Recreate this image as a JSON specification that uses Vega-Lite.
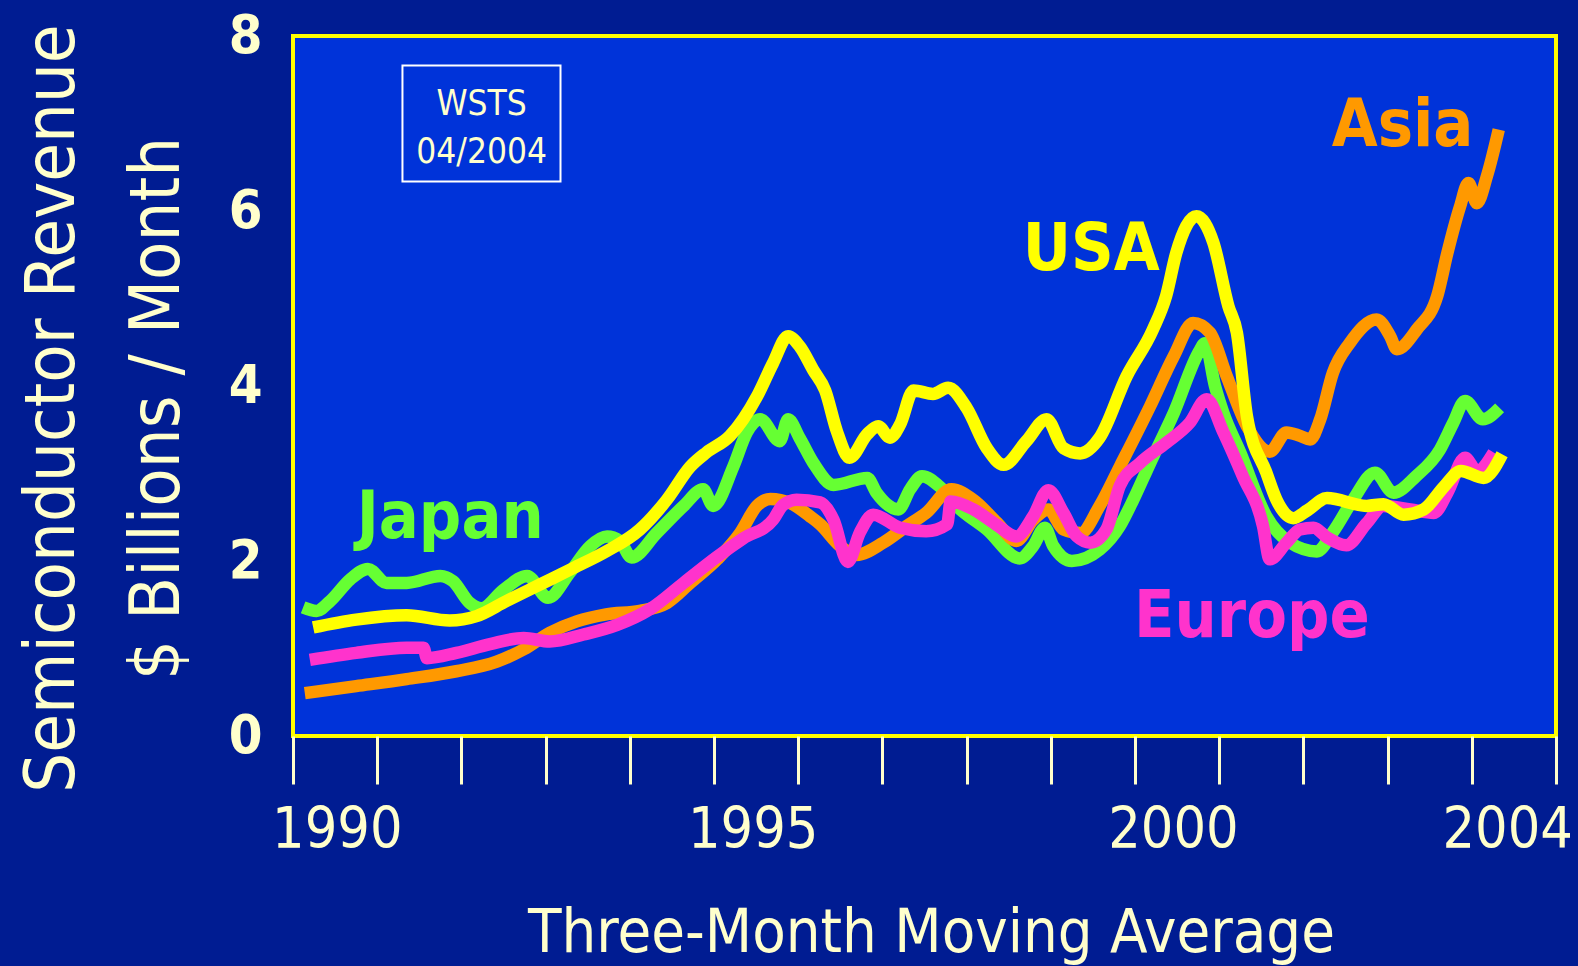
{
  "$schema": "https://vega.github.io/schema/vega-lite/v6.json",
  "width": 1263,
  "height": 700,
  "autosize": {"type": "none"},
  "padding": {"left": 293, "top": 36, "right": 22, "bottom": 230},
  "background": "#001c92",
  "config": {
    "view": {"fill": "#0033d9", "stroke": "#ffff00", "strokeWidth": 4},
    "axis": {"grid": false, "domain": false}
  },
  "datasets": {
    "series": [
      {"region": "Japan", "year": 1990.12, "value": 1.47},
      {"region": "Japan", "year": 1990.28, "value": 1.43},
      {"region": "Japan", "year": 1990.44, "value": 1.54},
      {"region": "Japan", "year": 1990.68, "value": 1.79},
      {"region": "Japan", "year": 1990.89, "value": 1.91},
      {"region": "Japan", "year": 1991.11, "value": 1.75},
      {"region": "Japan", "year": 1991.35, "value": 1.75},
      {"region": "Japan", "year": 1991.75, "value": 1.83},
      {"region": "Japan", "year": 1991.9, "value": 1.77},
      {"region": "Japan", "year": 1992.1, "value": 1.52},
      {"region": "Japan", "year": 1992.24, "value": 1.46},
      {"region": "Japan", "year": 1992.5, "value": 1.67},
      {"region": "Japan", "year": 1992.78, "value": 1.83},
      {"region": "Japan", "year": 1993.03, "value": 1.58},
      {"region": "Japan", "year": 1993.29, "value": 1.87},
      {"region": "Japan", "year": 1993.53, "value": 2.17},
      {"region": "Japan", "year": 1993.73, "value": 2.28},
      {"region": "Japan", "year": 1993.88, "value": 2.23},
      {"region": "Japan", "year": 1994.02, "value": 2.04},
      {"region": "Japan", "year": 1994.32, "value": 2.32},
      {"region": "Japan", "year": 1994.64, "value": 2.63},
      {"region": "Japan", "year": 1994.87, "value": 2.82},
      {"region": "Japan", "year": 1994.99, "value": 2.63},
      {"region": "Japan", "year": 1995.23, "value": 3.08},
      {"region": "Japan", "year": 1995.39, "value": 3.47},
      {"region": "Japan", "year": 1995.55, "value": 3.62},
      {"region": "Japan", "year": 1995.78, "value": 3.37},
      {"region": "Japan", "year": 1995.88, "value": 3.62},
      {"region": "Japan", "year": 1996.02, "value": 3.4},
      {"region": "Japan", "year": 1996.18, "value": 3.12},
      {"region": "Japan", "year": 1996.42, "value": 2.87},
      {"region": "Japan", "year": 1996.82, "value": 2.95},
      {"region": "Japan", "year": 1996.93, "value": 2.78},
      {"region": "Japan", "year": 1997.19, "value": 2.59},
      {"region": "Japan", "year": 1997.33, "value": 2.82},
      {"region": "Japan", "year": 1997.47, "value": 2.97},
      {"region": "Japan", "year": 1997.68, "value": 2.85},
      {"region": "Japan", "year": 1997.88, "value": 2.63},
      {"region": "Japan", "year": 1998.24, "value": 2.36},
      {"region": "Japan", "year": 1998.63, "value": 2.03},
      {"region": "Japan", "year": 1998.79, "value": 2.17},
      {"region": "Japan", "year": 1998.93, "value": 2.38},
      {"region": "Japan", "year": 1999.03, "value": 2.17},
      {"region": "Japan", "year": 1999.25, "value": 2.0},
      {"region": "Japan", "year": 1999.58, "value": 2.13},
      {"region": "Japan", "year": 1999.82, "value": 2.4},
      {"region": "Japan", "year": 1999.98, "value": 2.7},
      {"region": "Japan", "year": 2000.18, "value": 3.12},
      {"region": "Japan", "year": 2000.46, "value": 3.69},
      {"region": "Japan", "year": 2000.77, "value": 4.41},
      {"region": "Japan", "year": 2000.83, "value": 4.49},
      {"region": "Japan", "year": 2000.95, "value": 4.0},
      {"region": "Japan", "year": 2001.05, "value": 3.69},
      {"region": "Japan", "year": 2001.25, "value": 3.24},
      {"region": "Japan", "year": 2001.56, "value": 2.51},
      {"region": "Japan", "year": 2001.84, "value": 2.21},
      {"region": "Japan", "year": 2002.16, "value": 2.11},
      {"region": "Japan", "year": 2002.35, "value": 2.33},
      {"region": "Japan", "year": 2002.59, "value": 2.7},
      {"region": "Japan", "year": 2002.85, "value": 3.01},
      {"region": "Japan", "year": 2003.07, "value": 2.78},
      {"region": "Japan", "year": 2003.34, "value": 2.97},
      {"region": "Japan", "year": 2003.62, "value": 3.27},
      {"region": "Japan", "year": 2003.78, "value": 3.58},
      {"region": "Japan", "year": 2003.92, "value": 3.83},
      {"region": "Japan", "year": 2004.13, "value": 3.62},
      {"region": "Japan", "year": 2004.33, "value": 3.75},

      {"region": "Asia", "year": 1990.14, "value": 0.49},
      {"region": "Asia", "year": 1990.75, "value": 0.57},
      {"region": "Asia", "year": 1991.35, "value": 0.65},
      {"region": "Asia", "year": 1991.94, "value": 0.74},
      {"region": "Asia", "year": 1992.42, "value": 0.85},
      {"region": "Asia", "year": 1992.74, "value": 0.99},
      {"region": "Asia", "year": 1993.05, "value": 1.18},
      {"region": "Asia", "year": 1993.37, "value": 1.31},
      {"region": "Asia", "year": 1993.72, "value": 1.39},
      {"region": "Asia", "year": 1994.12, "value": 1.43},
      {"region": "Asia", "year": 1994.44, "value": 1.52},
      {"region": "Asia", "year": 1994.72, "value": 1.75},
      {"region": "Asia", "year": 1995.04, "value": 2.02},
      {"region": "Asia", "year": 1995.31, "value": 2.32},
      {"region": "Asia", "year": 1995.51, "value": 2.63},
      {"region": "Asia", "year": 1995.67, "value": 2.71},
      {"region": "Asia", "year": 1995.91, "value": 2.66},
      {"region": "Asia", "year": 1996.14, "value": 2.51},
      {"region": "Asia", "year": 1996.26, "value": 2.42},
      {"region": "Asia", "year": 1996.5, "value": 2.17},
      {"region": "Asia", "year": 1996.69, "value": 2.07},
      {"region": "Asia", "year": 1997.01, "value": 2.21},
      {"region": "Asia", "year": 1997.29, "value": 2.4},
      {"region": "Asia", "year": 1997.52, "value": 2.55},
      {"region": "Asia", "year": 1997.82, "value": 2.82},
      {"region": "Asia", "year": 1998.08, "value": 2.7},
      {"region": "Asia", "year": 1998.36, "value": 2.44},
      {"region": "Asia", "year": 1998.59, "value": 2.23},
      {"region": "Asia", "year": 1998.79, "value": 2.47},
      {"region": "Asia", "year": 1998.97, "value": 2.59},
      {"region": "Asia", "year": 1999.15, "value": 2.36},
      {"region": "Asia", "year": 1999.35, "value": 2.32},
      {"region": "Asia", "year": 1999.58, "value": 2.63},
      {"region": "Asia", "year": 1999.82, "value": 3.08},
      {"region": "Asia", "year": 2000.18, "value": 3.77},
      {"region": "Asia", "year": 2000.46, "value": 4.34},
      {"region": "Asia", "year": 2000.69, "value": 4.72},
      {"region": "Asia", "year": 2000.89, "value": 4.61},
      {"region": "Asia", "year": 2001.09, "value": 4.11},
      {"region": "Asia", "year": 2001.33, "value": 3.54},
      {"region": "Asia", "year": 2001.6, "value": 3.25},
      {"region": "Asia", "year": 2001.8, "value": 3.47},
      {"region": "Asia", "year": 2001.96, "value": 3.43},
      {"region": "Asia", "year": 2002.08, "value": 3.39},
      {"region": "Asia", "year": 2002.2, "value": 3.62},
      {"region": "Asia", "year": 2002.35, "value": 4.15},
      {"region": "Asia", "year": 2002.55, "value": 4.49},
      {"region": "Asia", "year": 2002.87, "value": 4.76},
      {"region": "Asia", "year": 2003.03, "value": 4.57},
      {"region": "Asia", "year": 2003.11, "value": 4.42},
      {"region": "Asia", "year": 2003.35, "value": 4.65},
      {"region": "Asia", "year": 2003.59, "value": 5.03},
      {"region": "Asia", "year": 2003.71, "value": 5.52},
      {"region": "Asia", "year": 2003.86, "value": 6.05},
      {"region": "Asia", "year": 2003.96, "value": 6.32},
      {"region": "Asia", "year": 2004.06, "value": 6.09},
      {"region": "Asia", "year": 2004.18, "value": 6.4},
      {"region": "Asia", "year": 2004.32, "value": 6.93},

      {"region": "Europe", "year": 1990.2, "value": 0.87},
      {"region": "Europe", "year": 1990.75, "value": 0.95},
      {"region": "Europe", "year": 1991.35, "value": 1.01},
      {"region": "Europe", "year": 1991.55, "value": 1.01},
      {"region": "Europe", "year": 1991.59, "value": 0.89},
      {"region": "Europe", "year": 1991.94, "value": 0.95},
      {"region": "Europe", "year": 1992.34, "value": 1.05},
      {"region": "Europe", "year": 1992.74, "value": 1.12},
      {"region": "Europe", "year": 1993.05, "value": 1.08},
      {"region": "Europe", "year": 1993.45, "value": 1.16},
      {"region": "Europe", "year": 1993.85, "value": 1.27},
      {"region": "Europe", "year": 1994.24, "value": 1.45},
      {"region": "Europe", "year": 1994.64, "value": 1.75},
      {"region": "Europe", "year": 1995.04, "value": 2.05},
      {"region": "Europe", "year": 1995.35, "value": 2.26},
      {"region": "Europe", "year": 1995.7, "value": 2.47},
      {"region": "Europe", "year": 1995.82, "value": 2.64},
      {"region": "Europe", "year": 1995.98, "value": 2.7},
      {"region": "Europe", "year": 1996.26, "value": 2.67},
      {"region": "Europe", "year": 1996.42, "value": 2.47},
      {"region": "Europe", "year": 1996.59, "value": 1.99},
      {"region": "Europe", "year": 1996.73, "value": 2.32},
      {"region": "Europe", "year": 1996.89, "value": 2.53},
      {"region": "Europe", "year": 1997.21, "value": 2.38},
      {"region": "Europe", "year": 1997.52, "value": 2.34},
      {"region": "Europe", "year": 1997.77, "value": 2.42},
      {"region": "Europe", "year": 1997.81, "value": 2.68},
      {"region": "Europe", "year": 1998.08, "value": 2.59},
      {"region": "Europe", "year": 1998.36, "value": 2.41},
      {"region": "Europe", "year": 1998.59, "value": 2.28},
      {"region": "Europe", "year": 1998.79, "value": 2.51},
      {"region": "Europe", "year": 1998.97, "value": 2.81},
      {"region": "Europe", "year": 1999.15, "value": 2.55},
      {"region": "Europe", "year": 1999.31, "value": 2.28},
      {"region": "Europe", "year": 1999.47, "value": 2.21},
      {"region": "Europe", "year": 1999.66, "value": 2.36},
      {"region": "Europe", "year": 1999.82, "value": 2.86},
      {"region": "Europe", "year": 2000.06, "value": 3.12},
      {"region": "Europe", "year": 2000.37, "value": 3.35},
      {"region": "Europe", "year": 2000.65, "value": 3.58},
      {"region": "Europe", "year": 2000.85, "value": 3.85},
      {"region": "Europe", "year": 2001.05, "value": 3.47},
      {"region": "Europe", "year": 2001.28, "value": 2.97},
      {"region": "Europe", "year": 2001.52, "value": 2.4},
      {"region": "Europe", "year": 2001.6, "value": 2.02},
      {"region": "Europe", "year": 2001.8, "value": 2.21},
      {"region": "Europe", "year": 2001.96, "value": 2.36},
      {"region": "Europe", "year": 2002.12, "value": 2.38},
      {"region": "Europe", "year": 2002.28, "value": 2.27},
      {"region": "Europe", "year": 2002.51, "value": 2.18},
      {"region": "Europe", "year": 2002.75, "value": 2.43},
      {"region": "Europe", "year": 2002.95, "value": 2.63},
      {"region": "Europe", "year": 2003.27, "value": 2.59},
      {"region": "Europe", "year": 2003.55, "value": 2.55},
      {"region": "Europe", "year": 2003.71, "value": 2.78},
      {"region": "Europe", "year": 2003.92, "value": 3.18},
      {"region": "Europe", "year": 2004.06, "value": 3.03},
      {"region": "Europe", "year": 2004.26, "value": 3.24},

      {"region": "USA", "year": 1990.24, "value": 1.24},
      {"region": "USA", "year": 1990.75, "value": 1.33},
      {"region": "USA", "year": 1991.35, "value": 1.38},
      {"region": "USA", "year": 1991.86, "value": 1.32},
      {"region": "USA", "year": 1992.18, "value": 1.37},
      {"region": "USA", "year": 1992.53, "value": 1.54},
      {"region": "USA", "year": 1992.93, "value": 1.73},
      {"region": "USA", "year": 1993.33, "value": 1.92},
      {"region": "USA", "year": 1993.72, "value": 2.11},
      {"region": "USA", "year": 1994.12, "value": 2.36},
      {"region": "USA", "year": 1994.44, "value": 2.7},
      {"region": "USA", "year": 1994.72, "value": 3.08},
      {"region": "USA", "year": 1994.91, "value": 3.24},
      {"region": "USA", "year": 1995.19, "value": 3.43},
      {"region": "USA", "year": 1995.51, "value": 3.88},
      {"region": "USA", "year": 1995.7, "value": 4.26},
      {"region": "USA", "year": 1995.88, "value": 4.57},
      {"region": "USA", "year": 1996.02, "value": 4.45},
      {"region": "USA", "year": 1996.18, "value": 4.18},
      {"region": "USA", "year": 1996.32, "value": 3.95},
      {"region": "USA", "year": 1996.46, "value": 3.48},
      {"region": "USA", "year": 1996.61, "value": 3.18},
      {"region": "USA", "year": 1996.82, "value": 3.45},
      {"region": "USA", "year": 1996.95, "value": 3.54},
      {"region": "USA", "year": 1997.09, "value": 3.41},
      {"region": "USA", "year": 1997.21, "value": 3.56},
      {"region": "USA", "year": 1997.37, "value": 3.95},
      {"region": "USA", "year": 1997.6, "value": 3.91},
      {"region": "USA", "year": 1997.78, "value": 3.98},
      {"region": "USA", "year": 1998.0, "value": 3.75},
      {"region": "USA", "year": 1998.24, "value": 3.29},
      {"region": "USA", "year": 1998.44, "value": 3.1},
      {"region": "USA", "year": 1998.71, "value": 3.37},
      {"region": "USA", "year": 1998.95, "value": 3.62},
      {"region": "USA", "year": 1999.15, "value": 3.29},
      {"region": "USA", "year": 1999.35, "value": 3.23},
      {"region": "USA", "year": 1999.58, "value": 3.41},
      {"region": "USA", "year": 1999.9, "value": 4.11},
      {"region": "USA", "year": 2000.21, "value": 4.64},
      {"region": "USA", "year": 2000.37, "value": 5.03},
      {"region": "USA", "year": 2000.49, "value": 5.52},
      {"region": "USA", "year": 2000.73, "value": 5.94},
      {"region": "USA", "year": 2000.93, "value": 5.64},
      {"region": "USA", "year": 2001.11, "value": 4.91},
      {"region": "USA", "year": 2001.21, "value": 4.61},
      {"region": "USA", "year": 2001.33, "value": 3.65},
      {"region": "USA", "year": 2001.56, "value": 3.01},
      {"region": "USA", "year": 2001.68, "value": 2.7},
      {"region": "USA", "year": 2001.88, "value": 2.49},
      {"region": "USA", "year": 2002.05, "value": 2.58},
      {"region": "USA", "year": 2002.28, "value": 2.72},
      {"region": "USA", "year": 2002.75, "value": 2.63},
      {"region": "USA", "year": 2002.95, "value": 2.65},
      {"region": "USA", "year": 2003.19, "value": 2.53},
      {"region": "USA", "year": 2003.43, "value": 2.59},
      {"region": "USA", "year": 2003.67, "value": 2.85},
      {"region": "USA", "year": 2003.87, "value": 3.03},
      {"region": "USA", "year": 2004.14, "value": 2.95},
      {"region": "USA", "year": 2004.36, "value": 3.22}
    ],
    "labels": [
      {"region": "Japan", "year": 1990.757, "value": 2.265},
      {"region": "USA", "year": 1998.666, "value": 5.323},
      {"region": "Asia", "year": 2002.336, "value": 6.741},
      {"region": "Europe", "year": 1999.988, "value": 1.134}
    ],
    "box": [
      {"year": 1991.3, "year2": 1993.177, "value": 7.663, "value2": 6.337}
    ],
    "boxtext": [
      {"txt": "WSTS", "year": 1992.24, "value": 7.095},
      {"txt": "04/2004", "year": 1992.24, "value": 6.551}
    ],
    "yticks": [
      {"value": 1}, {"value": 2}, {"value": 3}, {"value": 4}, {"value": 5}, {"value": 6}, {"value": 7}
    ]
  },
  "encoding": {
    "x": {
      "field": "year",
      "type": "quantitative",
      "scale": {"domain": [1990, 2005], "nice": false, "zero": false},
      "axis": {
        "values": [1990, 1990.52, 1991, 1992, 1993, 1994, 1995, 1995.46, 1996, 1997, 1998, 1999, 2000, 2000.45, 2001, 2002, 2003, 2004, 2004.42, 2005],
        "labelExpr": "datum.value % 1 === 0 ? '' : '' + floor(datum.value)",
        "tickSize": 48,
        "tickWidth": 3,
        "tickColor": "#ffffcc",
        "tickOpacity": {"condition": {"test": "datum.value % 1 !== 0", "value": 0}, "value": 1},
        "labelFont": "DejaVu Sans Condensed, Roboto Condensed, Liberation Sans Narrow, sans-serif",
        "labelFontSize": 57,
        "labelColor": "#ffffcc",
        "labelPadding": 18,
        "labelFlush": false,
        "labelOverlap": false,
        "labelBaseline": "top",
        "labelAlign": "center",
        "title": "Three-Month Moving Average",
        "titleFont": "DejaVu Sans Condensed, Roboto Condensed, Liberation Sans Narrow, sans-serif",
        "titleFontSize": 61,
        "titleFontWeight": "normal",
        "titleColor": "#ffffcc",
        "titleX": 638,
        "titleY": 215,
        "titleAlign": "center",
        "titleBaseline": "alphabetic"
      }
    },
    "y": {
      "field": "value",
      "type": "quantitative",
      "scale": {"domain": [0, 8], "nice": false, "zero": true},
      "axis": {
        "values": [0, 2, 4, 6, 8],
        "ticks": false,
        "tickSize": 0,
        "labelFont": "DejaVu Sans Condensed, Roboto Condensed, Liberation Sans Narrow, sans-serif",
        "labelFontWeight": "bold",
        "labelFontSize": 54,
        "labelColor": "#ffffcc",
        "labelPadding": 31,
        "labelAlign": "right",
        "labelBaseline": "middle",
        "labelFlush": false,
        "labelOverlap": false,
        "title": ["Semiconductor Revenue", "$ Billions / Month"],
        "titleFont": "DejaVu Sans Condensed, Roboto Condensed, Liberation Sans Narrow, sans-serif",
        "titleFontSize": 70,
        "titleFontWeight": "normal",
        "titleColor": "#ffffcc",
        "titleAngle": -90,
        "titleAlign": "center",
        "titleBaseline": "alphabetic",
        "titleLineHeight": 105,
        "titleX": -220,
        "titleY": 372
      }
    }
  },
  "layer": [
    {
      "data": {"name": "yticks"},
      "mark": {"type": "rule", "color": "#ffff00", "strokeWidth": 4},
      "encoding": {
        "x": {"datum": 1990, "type": "quantitative"},
        "x2": {"datum": 1990.44}
      }
    },
    {
      "data": {"name": "box"},
      "mark": {"type": "rect", "fillOpacity": 0, "stroke": "#ffffff", "strokeWidth": 2},
      "encoding": {
        "x2": {"field": "year2"},
        "y2": {"field": "value2"}
      }
    },
    {
      "data": {"name": "boxtext"},
      "mark": {"type": "text", "font": "DejaVu Sans Condensed, Roboto Condensed, Liberation Sans Narrow, sans-serif", "fontSize": 35, "color": "#ffffcc", "align": "center", "baseline": "alphabetic"},
      "encoding": {"text": {"field": "txt"}}
    },
    {
      "data": {"name": "series"},
      "transform": [{"filter": "datum.region === 'Japan'"}],
      "mark": {"type": "line", "strokeWidth": 12.5, "interpolate": "monotone", "strokeCap": "butt", "strokeJoin": "round"},
      "encoding": {
        "color": {"field": "region", "type": "nominal", "scale": {"domain": ["Japan", "Asia", "Europe", "USA"], "range": ["#66ff33", "#ff9900", "#ff33cc", "#ffff00"]}, "legend": null}
      }
    },
    {
      "data": {"name": "series"},
      "transform": [{"filter": "datum.region === 'Asia'"}],
      "mark": {"type": "line", "strokeWidth": 12.5, "interpolate": "monotone", "strokeCap": "butt", "strokeJoin": "round"},
      "encoding": {
        "color": {"field": "region", "type": "nominal", "legend": null}
      }
    },
    {
      "data": {"name": "series"},
      "transform": [{"filter": "datum.region === 'Europe'"}],
      "mark": {"type": "line", "strokeWidth": 12.5, "interpolate": "monotone", "strokeCap": "butt", "strokeJoin": "round"},
      "encoding": {
        "color": {"field": "region", "type": "nominal", "legend": null}
      }
    },
    {
      "data": {"name": "series"},
      "transform": [{"filter": "datum.region === 'USA'"}],
      "mark": {"type": "line", "strokeWidth": 12.5, "interpolate": "monotone", "strokeCap": "butt", "strokeJoin": "round"},
      "encoding": {
        "color": {"field": "region", "type": "nominal", "legend": null}
      }
    },
    {
      "data": {"name": "labels"},
      "mark": {"type": "text", "font": "DejaVu Sans Condensed, Roboto Condensed, Liberation Sans Narrow, sans-serif", "fontWeight": "bold", "fontSize": 66, "align": "left", "baseline": "alphabetic"},
      "encoding": {
        "text": {"field": "region"},
        "color": {"field": "region", "type": "nominal", "legend": null}
      }
    }
  ]
}
